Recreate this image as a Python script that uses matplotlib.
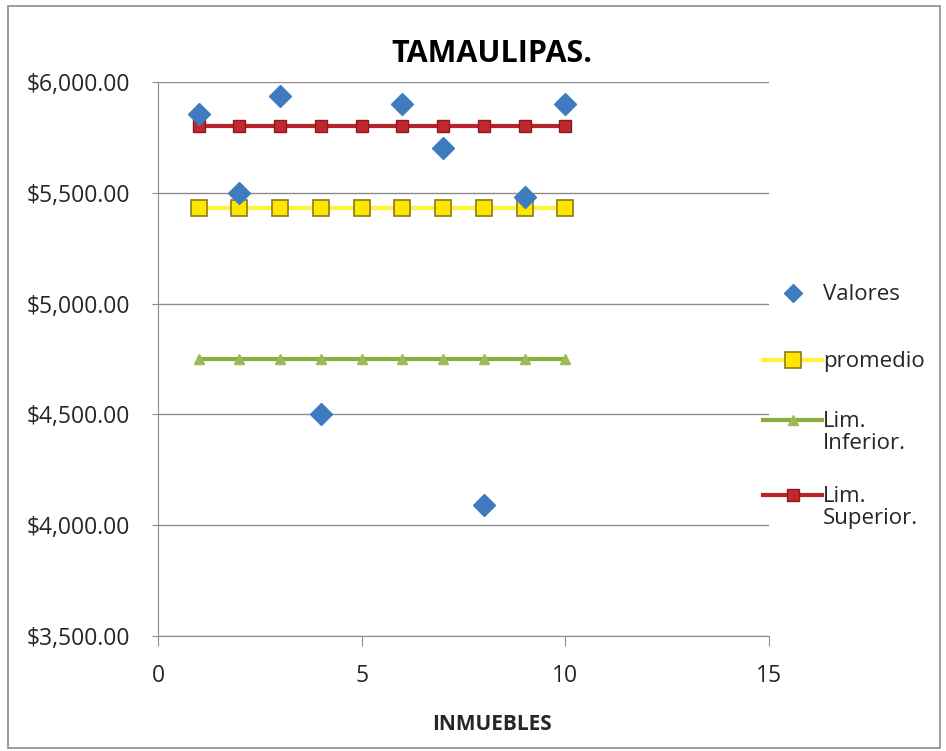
import matplotlib
matplotlib.use("Agg")
import matplotlib.pyplot as plt
from matplotlib.lines import Line2D
from matplotlib.ticker import FuncFormatter

# data
inmuebles = [1, 2, 3, 4, 6, 7, 8, 9, 10]
valores = [5855, 5500, 5935, 4500, 5900, 5700, 4090, 5480, 5900]
x_lineas = [1, 2, 3, 4, 5, 6, 7, 8, 9, 10]
promedio = [5430] * 10
lim_inferior = [4750] * 10
lim_superior = [5800] * 10

plt.rcParams['font.family'] = ['Open Sans', 'DejaVu Sans']

W, H = 946, 751
fig = plt.figure(figsize=(W / 100, H / 100), dpi=100)
ax = fig.add_axes([158 / W, 1 - 636 / H, (769 - 158) / W, (636 - 82) / H])

estilos = {
    'Valores': dict(ls='none', marker='D', ms=11, color='#3F7CBF', mec='#3F7CBF'),
    'promedio': dict(color='#FFF23A', lw=3, marker='s', ms=12,
                     mfc='#FFE600', mec='#8C7A1A', mew=1.2),
    'Lim.\nInferior.': dict(color='#8AAE3E', lw=3, marker='^', ms=7,
                            mfc='#9BBB59', mec='#9BBB59'),
    'Lim.\nSuperior.': dict(color='#B8232B', lw=3, marker='s', ms=9,
                            mfc='#C0282D', mec='#8E1A20'),
}

ax.plot(x_lineas, lim_inferior, zorder=2, **estilos['Lim.\nInferior.'])
ax.plot(x_lineas, promedio, zorder=2, **estilos['promedio'])
ax.plot(x_lineas, lim_superior, zorder=3, **estilos['Lim.\nSuperior.'])
ax.plot(inmuebles, valores, zorder=4, **estilos['Valores'])

ax.set_xlim(0, 15)
ax.set_ylim(3500, 6000)
ax.set_xticks([0, 5, 10, 15])
ax.set_yticks([3500, 4000, 4500, 5000, 5500, 6000])
ax.yaxis.set_major_formatter(FuncFormatter(lambda v, p: '${:,.2f}'.format(v)))
ax.grid(axis='y', color='#8C8C8C', lw=1)
ax.set_axisbelow(True)
for s in ['top', 'right']:
    ax.spines[s].set_visible(False)
for s in ['left', 'bottom']:
    ax.spines[s].set_color('#8C8C8C')
ax.tick_params(axis='both', labelsize=16.5, color='#8C8C8C', labelcolor='#262626')
ax.tick_params(axis='y', length=4, pad=16)
ax.tick_params(axis='x', length=7, pad=13)

fig.text(492 / W, 1 - 54 / H, 'TAMAULIPAS.', fontsize=22, fontweight='bold',
         ha='center', va='center')
fig.text(492 / W, 1 - 725 / H, 'INMUEBLES', fontsize=15, fontweight='bold',
         ha='center', va='center', color='#262626')

# legend drawn by hand so the handle sits on the first text line
leyenda_y = {'Valores': 293, 'promedio': 360, 'Lim.\nInferior.': 420, 'Lim.\nSuperior.': 495}
for nombre, yy in leyenda_y.items():
    est = dict(estilos[nombre])
    if est.get('ls') == 'none':
        est['ms'] = 9
        fig.add_artist(Line2D([793 / W], [1 - yy / H], transform=fig.transFigure, **est))
    else:
        fig.add_artist(Line2D([763 / W, 822 / W], [1 - yy / H] * 2, transform=fig.transFigure,
                              markevery=[], **est))
        fig.add_artist(Line2D([793 / W], [1 - yy / H], transform=fig.transFigure,
                              **{**est, 'ls': 'none'}))
    fig.text(823 / W, 1 - (yy - 9) / H, nombre, fontsize=16, va='top', ha='left',
             color='#262626', linespacing=1.05)

fig.patches.append(plt.Rectangle((8 / W, 3 / H), (940 - 8) / W, (748 - 6) / H,
                                 transform=fig.transFigure, fill=False,
                                 edgecolor='#8C8C8C', lw=1.2))

fig.savefig('out.png', dpi=100)
